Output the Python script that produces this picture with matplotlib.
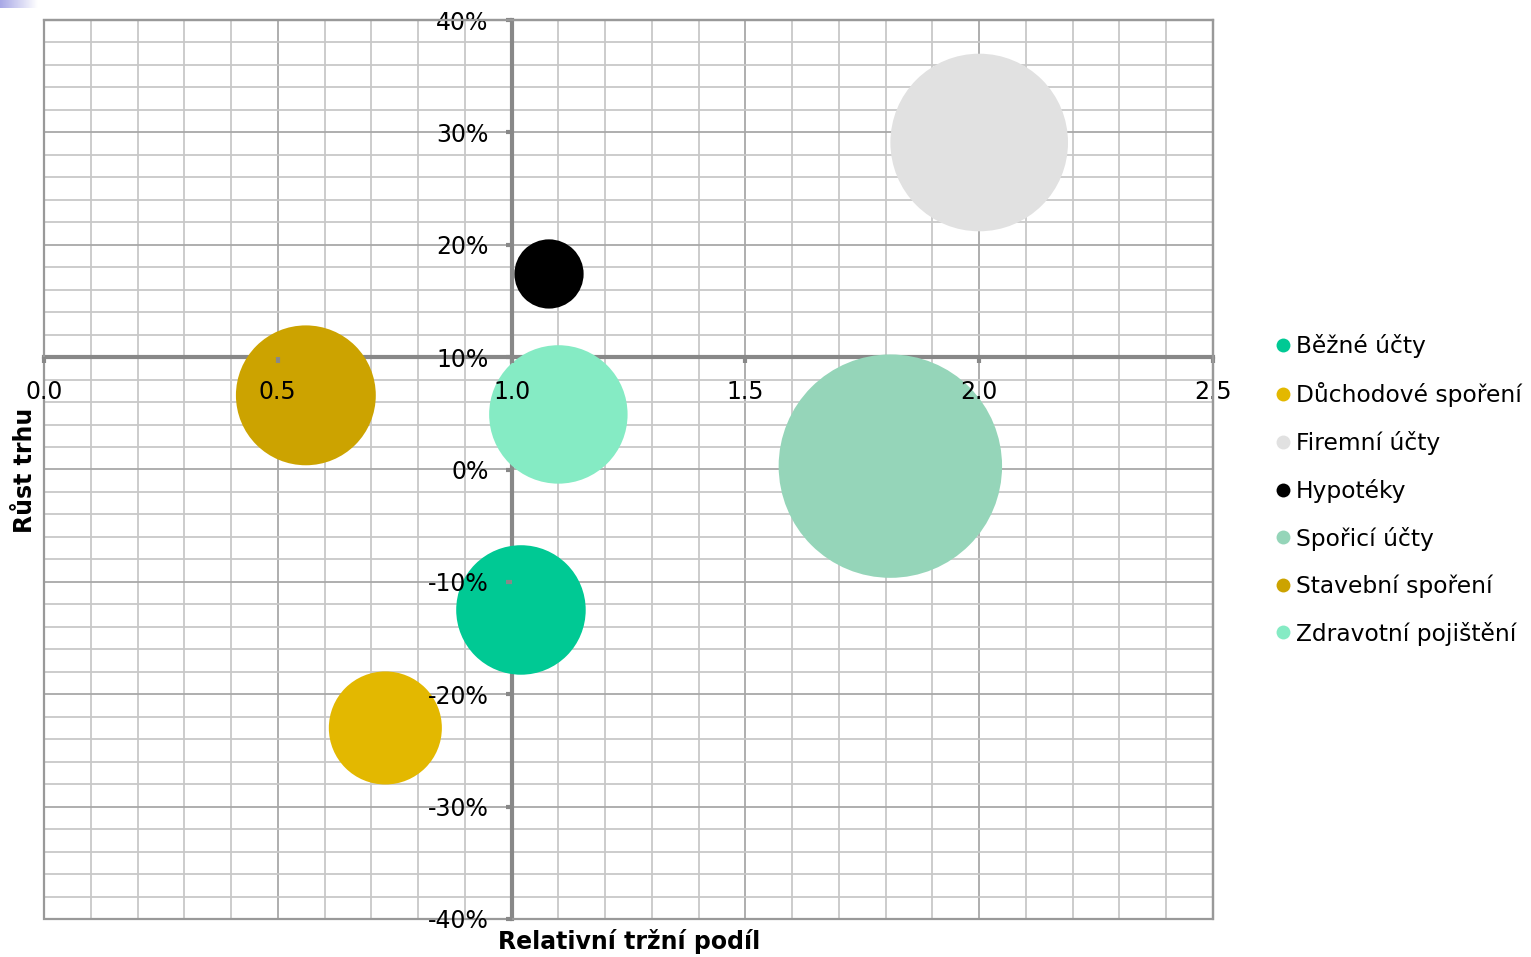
import numpy as np
import matplotlib.pyplot as plt
from matplotlib.lines import Line2D
from matplotlib.patches import Rectangle
from matplotlib.ticker import FuncFormatter

# Data
produkty = ["Běžné účty", "Důchodové spoření", "Firemní účty", "Hypotéky",
            "Spořicí účty", "Stavební spoření", "Zdravotní pojištění"]
trzni_podil = [1.02, 0.73, 2.00, 1.08, 1.81, 0.56, 1.10]
rust_trhu = [-0.125, -0.23, 0.291, 0.174, 0.003, 0.066, 0.049]
objem = [42, 32, 79, 12, 125, 49, 48]
barvy = ["#00C994", "#E3B800", "#E1E1E1", "#000000", "#95D5B9", "#CCA300", "#85EBC4"]

plt.rcParams['font.family'] = ['DejaVu Sans']

fig = plt.figure(figsize=(15.31, 9.57), dpi=100)
ax = fig.add_axes([44 / 1531, 1 - 919 / 957, (1213 - 44) / 1531, (919 - 20) / 957])

ax.set_xlim(0, 2.5)
ax.set_ylim(-0.4, 0.4)

# mřížka
for x in np.arange(0, 2.51, 0.1):
    major = abs(x / 0.5 - round(x / 0.5)) < 1e-6
    ax.axvline(x, color="#A8A8A8" if major else "#C8C8C8", lw=1.3, zorder=0.3)
for y in np.arange(-0.4, 0.401, 0.02):
    major = abs(y / 0.1 - round(y / 0.1)) < 1e-6
    ax.axhline(y, color="#A8A8A8" if major else "#C8C8C8", lw=1.3, zorder=0.3)

# bubliny
ax.scatter(trzni_podil, rust_trhu, s=np.array(objem) * 207, c=barvy,
           edgecolors="none", zorder=1)

# osy
ax.spines['bottom'].set_position(('data', 0.10))
ax.spines['left'].set_position(('data', 1.0))
for s in ['bottom', 'left']:
    ax.spines[s].set_color("#888888")
    ax.spines[s].set_linewidth(3)
    ax.spines[s].set_zorder(0.8)
for s in ['top', 'right']:
    ax.spines[s].set_color("#999999")
    ax.spines[s].set_linewidth(1.6)
ax.add_patch(Rectangle((0, 0), 1, 1, transform=ax.transAxes, fill=False,
                       edgecolor="#999999", lw=1.6, zorder=0.9, clip_on=False))

ax.set_xticks(np.arange(0, 2.51, 0.5))
ax.set_yticks(np.arange(-0.4, 0.41, 0.1))
ax.xaxis.set_major_formatter(FuncFormatter(lambda v, p: f"{v:.1f}"))
ax.yaxis.set_major_formatter(FuncFormatter(lambda v, p: f"{int(round(v * 100))}%"))
ax.tick_params(axis='both', direction='out', length=4.5, width=3, color="#888888",
               labelsize=17)
ax.tick_params(axis='x', pad=12)
ax.tick_params(axis='y', pad=12)
ax.xaxis.set_zorder(2)
ax.yaxis.set_zorder(2)

fig.text(629 / 1531, 1 - 942 / 957, "Relativní tržní podíl", ha='center', va='center',
         fontsize=17, fontweight='bold')
fig.text(25 / 1531, 1 - 470 / 957, "Růst trhu", ha='center', va='center',
         rotation=90, fontsize=17, fontweight='bold')

# legenda
handles = [Line2D([], [], marker='o', linestyle='none', markersize=10,
                  markerfacecolor=b, markeredgecolor='none') for b in barvy]
fig.legend(handles, produkty, loc='center left', bbox_to_anchor=(1262 / 1531, 1 - 490 / 957),
           frameon=False, fontsize=16.8, handletextpad=0.05, labelspacing=1.02,
           handlelength=1.0, borderaxespad=0)

# drobný přechod v rohu
gax = fig.add_axes([0, 1 - 8 / 957, 38 / 1531, 8 / 957])
gax.imshow(np.linspace(0, 1, 50)[None, :], cmap=plt.matplotlib.colors.LinearSegmentedColormap.from_list(
    "g", ["#A8A8E6", "#FFFFFF"]), aspect='auto')
gax.axis('off')

fig.savefig("out.png", dpi=100)
